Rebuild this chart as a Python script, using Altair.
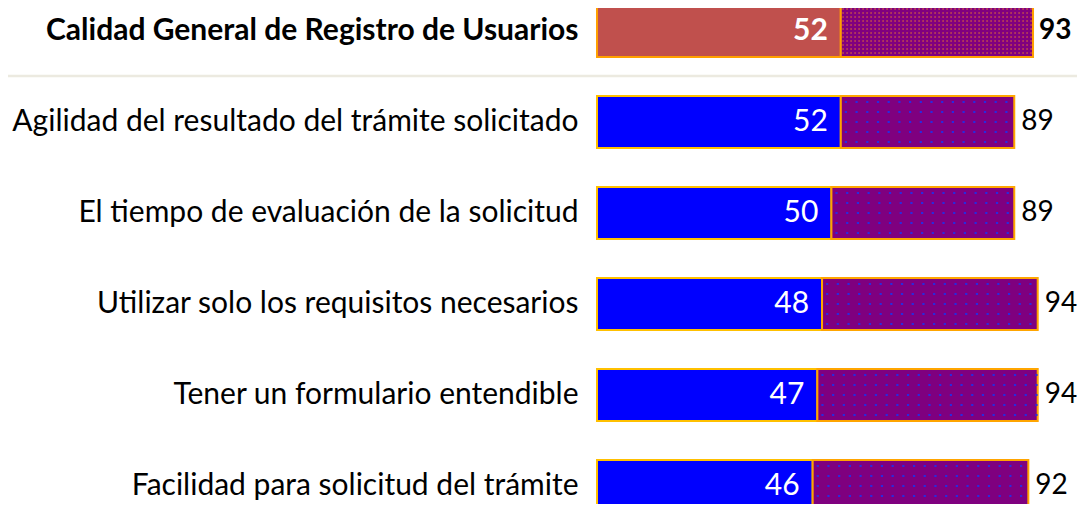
import altair as alt
import pandas as pd

labels = [
    "Calidad General de Registro de Usuarios",
    "Agilidad del resultado del trámite solicitado",
    "El tiempo de evaluación de la solicitud",
    "Utilizar solo los requisitos necesarios",
    "Tener un formulario entendible",
    "Facilidad para solicitud del trámite",
]
first_values = [52, 52, 50, 48, 47, 46]
total_values = [93, 89, 89, 94, 94, 92]

df = pd.DataFrame({"label": labels, "first": first_values, "total": total_values})
TOP = labels[0]
FONT = "Lato"
FS = 30
FS_OUT = 28

y_enc = alt.Y(
    "label:N",
    sort=labels,
    scale=alt.Scale(paddingInner=0.4286, paddingOuter=0),
    axis=alt.Axis(
        title=None, domain=False, ticks=False, grid=False, labelPadding=19,
        labelFontSize=FS, labelFont=FONT, labelColor="#000000", labelLimit=0,
        labelFontWeight=alt.expr("datum.value == '%s' ? 'bold' : 'normal'" % TOP),
    ),
)
x_scale = alt.Scale(domain=[0, 104.3], nice=False, zero=True)

base = alt.Chart(df).encode(y=y_enc)
top = base.transform_filter(alt.datum.label == TOP)
rest = base.transform_filter(alt.datum.label != TOP)

x1 = alt.X("first:Q", scale=x_scale, axis=None)
x0 = alt.X("zero:Q", scale=x_scale, axis=None)

seg1_top = top.transform_calculate(zero="0").mark_bar(
    color="#C0504D", stroke="#FFA000", strokeWidth=2).encode(x=x0, x2="first:Q")
seg2_top = top.mark_bar(color="#80007F", stroke="#FFA000", strokeWidth=2).encode(
    x=x1, x2="total:Q")
seg1_rest = rest.transform_calculate(zero="0").mark_bar(
    color="#0000FF", stroke="#FFC000", strokeWidth=2).encode(x=x0, x2="first:Q")
seg2_rest = rest.mark_bar(color="#7F007F", stroke="#FFA500", strokeWidth=2).encode(
    x=x1, x2="total:Q")

# dotted texture inside the second segments: dashed rules at fixed pixel offsets
texture = []
for off in [-20, -10, 0, 10, 20]:
    texture.append(rest.mark_rule(
        yOffset=off, strokeDash=[2.2, 8.5], strokeDashOffset=-4, strokeWidth=2.2,
        color="#2A2AE0").encode(x=x1, x2="total:Q"))
for off in range(-22, 23, 4):
    texture.append(top.mark_rule(
        yOffset=off, strokeDash=[1.6, 2.4], strokeDashOffset=-1.5, strokeWidth=1.6,
        color="#D8643C", opacity=0.8).encode(x=x1, x2="total:Q"))

in_top = top.mark_text(align="right", dx=-13, fontSize=FS, font=FONT, fontWeight="bold",
                       color="white").encode(x=x1, text="first:Q")
in_rest = rest.mark_text(align="right", dx=-13, fontSize=FS, font=FONT,
                         color="white").encode(x=x1, text="first:Q")
x_t = alt.X("total:Q", scale=x_scale, axis=None)
out_top = top.mark_text(align="left", dx=6, fontSize=FS_OUT, font=FONT, fontWeight="bold",
                        color="black").encode(x=x_t, text="total:Q")
out_rest = rest.mark_text(align="left", dx=7, fontSize=FS_OUT, font=FONT,
                          color="black").encode(x=x_t, text="total:Q")

sep = alt.Chart(df).transform_filter(alt.datum.label == TOP).mark_rule(
    color="#ECEAE0", strokeWidth=2.5
).encode(x=alt.value(-600), x2=alt.value(489), y=alt.value(71))

chart = alt.layer(
    sep, seg1_top, seg2_top, seg1_rest, seg2_rest, *texture,
    in_top, in_rest, out_top, out_rest
).properties(
    width=489, height=507,
    autosize=alt.AutoSizeParams(type="none"),
    padding={"left": 589, "top": -3, "right": -9, "bottom": -8},
).configure(
    background="white", view=alt.ViewConfig(stroke="transparent", strokeWidth=0)
)

chart.save("out.html", embed_options={"renderer": "svg", "actions": False})
